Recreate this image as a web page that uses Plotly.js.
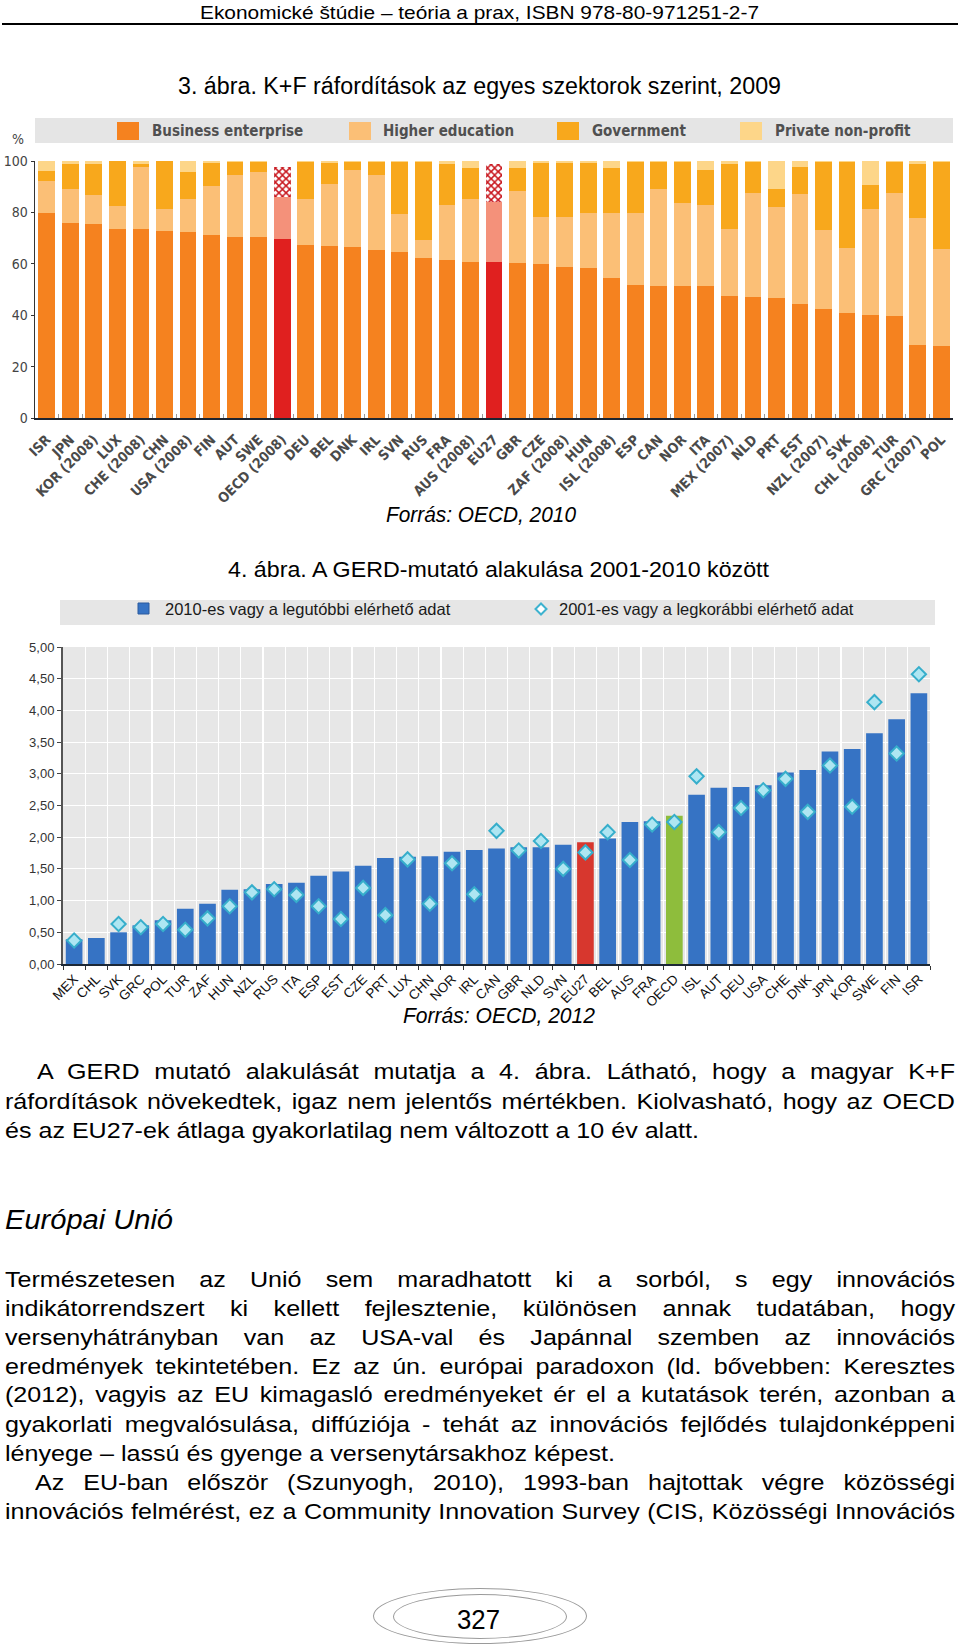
<!DOCTYPE html>
<html><head><meta charset="utf-8">
<script src="https://cdn.plot.ly/plotly-3.0.1.min.js"></script>
<style>
html,body{margin:0;padding:0;background:#fff;}
body{width:960px;height:1649px;position:relative;overflow:hidden;color:#000;}
.t{position:absolute;transform-origin:0 50%;}
#c1{position:absolute;left:0;top:110px;width:960px;height:400px;}
#c2{position:absolute;left:0;top:590px;width:960px;height:420px;}
.ell{position:absolute;border:1.5px solid #9a9a9a;border-radius:50%;box-sizing:border-box;}
#rule{position:absolute;left:2px;top:23px;width:956px;height:1.5px;background:#000;}
</style></head><body>
<div id="rule"></div>
<div id="c1"></div>
<div id="c2"></div>
<div class="ell" style="left:373px;top:1588px;width:214px;height:56px;"></div>
<div class="ell" style="left:393px;top:1594px;width:174px;height:45px;"></div>
<script>
// ---------- DATA: chart 1 (3. ábra) ----------
const sectorCats = ['ISR','JPN','KOR (2008)','LUX','CHE (2008)','CHN','USA (2008)','FIN','AUT','SWE','OECD (2008)','DEU','BEL','DNK','IRL','SVN','RUS','FRA','AUS (2008)','EU27','GBR','CZE','ZAF (2008)','HUN','ISL (2008)','ESP','CAN','NOR','ITA','MEX (2007)','NLD','PRT','EST','NZL (2007)','SVK','CHL (2008)','TUR','GRC (2007)','POL'];
const businessEnterprise = [79.8,75.8,75.4,73.6,73.4,72.9,72.3,71.3,70.5,70.4,69.6,67.4,67.1,66.7,65.2,64.4,62.1,61.5,60.8,60.7,60.3,60.0,58.7,58.3,54.4,51.8,51.5,51.5,51.2,47.3,47.0,46.6,44.4,42.5,40.9,40.2,39.8,28.5,28.2];
const higherEducation = [12.6,13.3,11.4,8.8,24.4,8.6,13.1,19.1,24.1,25.5,16.4,17.8,23.8,29.8,29.4,15.0,7.3,21.3,24.4,23.5,28.0,18.1,19.7,21.3,25.2,27.8,37.6,32.1,31.7,26.2,40.7,35.4,42.8,30.5,25.2,41.2,47.9,49.5,37.5];
const government = [3.8,9.6,12.0,17.6,1.0,18.5,10.4,8.7,5.2,3.8,11.8,14.6,8.2,3.3,5.2,20.4,30.1,15.9,12.2,14.5,9.1,21.3,20.7,19.8,17.8,20.2,10.7,16.2,13.6,25.2,12.1,7.1,10.6,26.8,33.7,9.3,12.1,20.7,34.1];
const privateNonProfit = [3.8,1.3,1.2,0.0,1.2,0.0,4.2,0.9,0.2,0.3,2.2,0.2,0.9,0.2,0.2,0.2,0.5,1.3,2.6,1.3,2.6,0.6,0.9,0.6,2.6,0.2,0.2,0.2,3.5,1.3,0.2,10.9,2.2,0.2,0.2,9.3,0.2,1.3,0.2];
const sectorNames = ['Business enterprise','Higher education','Government','Private non-profit'];
const highlighted1 = ['OECD (2008)','EU27'];
const yTicks1 = [0,20,40,60,80,100];

// ---------- DATA: chart 2 (4. ábra) ----------
const gerdCats = ['MEX','CHL','SVK','GRC','POL','TUR','ZAF','HUN','NZL','RUS','ITA','ESP','EST','CZE','PRT','LUX','CHN','NOR','IRL','CAN','GBR','NLD','SVN','EU27','BEL','AUS','FRA','OECD','ISL','AUT','DEU','USA','CHE','DNK','JPN','KOR','SWE','FIN','ISR'];
const gerdLatest = [0.39,0.41,0.50,0.61,0.69,0.87,0.95,1.17,1.18,1.26,1.28,1.39,1.46,1.55,1.67,1.69,1.70,1.77,1.80,1.82,1.84,1.84,1.88,1.92,1.98,2.24,2.25,2.34,2.67,2.78,2.79,2.82,3.02,3.06,3.35,3.39,3.64,3.86,4.27];
const gerdEarliest = [0.37,null,0.63,0.58,0.63,0.54,0.72,0.91,1.13,1.18,1.09,0.91,0.71,1.20,0.77,1.65,0.95,1.59,1.10,2.10,1.79,1.94,1.50,1.76,2.08,1.64,2.20,2.24,2.96,2.08,2.46,2.74,2.92,2.40,3.13,2.48,4.13,3.32,4.57];
const gerdNames = ['2010-es vagy a legutóbbi elérhető adat','2001-es vagy a legkorábbi elérhető adat'];
const yTicks2 = [0,0.5,1,1.5,2,2.5,3,3.5,4,4.5,5];

// ---------- fonts ----------
const FONT = "'Liberation Sans', Arial, Helvetica, sans-serif";
const FONT_N = "'Liberation Sans Narrow','DejaVu Sans Condensed','Arial Narrow','Liberation Sans',Arial,sans-serif";

// ---------- chart 1 ----------
(function(){
  const M = {top:110, h:400, l:35, r:7, t:51, b:92};
  const pw = 960-M.l-M.r, ph = M.h-M.t-M.b, bottom = M.top+M.h-M.b;
  const px = x => (x-M.l)/pw, py = y => (bottom-y)/ph;
  const isH = c => highlighted1.indexOf(c) >= 0;
  const cBus = sectorCats.map(c => isH(c) ? '#E0201F' : '#F5821F');
  const cHe  = sectorCats.map(c => isH(c) ? '#F4917A' : '#FBBF76');
  const cPnp = sectorCats.map(c => isH(c) ? 'rgba(0,0,0,0)' : '#FDD689');
  // government split: plain for countries, checkered for the averages
  const govPlain = government.map((v,i) => isH(sectorCats[i]) ? 0 : v);
  const govAvg   = government.map((v,i) => isH(sectorCats[i]) ? v : 0);
  const base = {type:'bar', x:sectorCats, hoverinfo:'skip', showlegend:false};
  const traces = [
    Object.assign({}, base, {name:sectorNames[0], y:businessEnterprise, marker:{color:cBus, line:{width:0}}}),
    Object.assign({}, base, {name:sectorNames[1], y:higherEducation, marker:{color:cHe, line:{width:0}}}),
    Object.assign({}, base, {name:sectorNames[2], y:govPlain, marker:{color:'#F8A81C', line:{width:0}}}),
    Object.assign({}, base, {name:sectorNames[2]+' (átlag)', y:govAvg, marker:{color:'#FFFFFF', line:{width:0}, pattern:{shape:'x', fillmode:'replace', fgcolor:'#C8161D', bgcolor:'#FFFFFF', size:5, solidity:0.5}}}),
    Object.assign({}, base, {name:sectorNames[3], y:privateNonProfit, marker:{color:cPnp, line:{width:0}}})
  ];
  const legColors = ['#F5821F','#FBBF76','#F8A81C','#FDD689'];
  const sqX = [117,349,557,740], txX = [150,381,590,773];
  const shapes = [{type:'rect', xref:'paper', yref:'paper', x0:px(35), x1:px(953), y0:py(143), y1:py(118), fillcolor:'#E5E5E5', line:{width:0}, layer:'below'}];
  const ann = [];
  sectorNames.forEach((n,i)=>{
    shapes.push({type:'rect', xref:'paper', yref:'paper', x0:px(sqX[i]), x1:px(sqX[i]+22), y0:py(140), y1:py(122), fillcolor:legColors[i], line:{width:0}});
    ann.push({xref:'paper', yref:'paper', x:px(txX[i]), y:py(131), xanchor:'left', yanchor:'middle', showarrow:false, text:n, font:{family:FONT_N, size:15, color:'#505050', weight:'bold'}});
  });
  ann.push({xref:'paper', yref:'paper', x:px(18), y:py(139), xanchor:'center', yanchor:'middle', showarrow:false, text:'%', font:{family:FONT_N, size:14, color:'#444'}});
  const tickText = sectorCats.map(c => isH(c) ? '<b>'+c+'</b>' : c);
  const layout = {
    width:960, height:M.h, margin:{l:M.l, r:M.r, t:M.t, b:M.b, pad:0},
    barmode:'stack', bargap:0.29, paper_bgcolor:'#fff', plot_bgcolor:'#fff',
    xaxis:{type:'category', range:[-0.5, sectorCats.length-0.5], tickangle:-45, tickson:'boundaries', ticks:'inside', ticklen:4, tickcolor:'#9a9a9a',
      tickvals:sectorCats, ticktext:tickText, tickfont:{family:FONT_N, size:14, color:'#4a4a4a', weight:'bold'}, ticklabelstandoff:6,
      showline:true, linecolor:'#1e2530', linewidth:2, showgrid:false, zeroline:false, automargin:false, fixedrange:true},
    yaxis:{range:[0,100], tickvals:yTicks1, ticks:'outside', ticklen:3, tickcolor:'#333', showline:true, linecolor:'#333', linewidth:1.5,
      showgrid:false, zeroline:false, tickfont:{family:FONT_N, size:14, color:'#444'}, automargin:false, fixedrange:true},
    shapes:shapes, annotations:ann, showlegend:false
  };
  Plotly.newPlot('c1', traces, layout, {displayModeBar:false, staticPlot:true});
})();

// ---------- chart 2 ----------
(function(){
  const M = {top:590, h:420, l:63, r:30, t:57, b:46};
  const pw = 960-M.l-M.r, ph = M.h-M.t-M.b, bottom = M.top+M.h-M.b;
  const px = x => (x-M.l)/pw, py = y => (bottom-y)/ph;
  const barColors = gerdCats.map(c => c==='EU27' ? '#D7372E' : (c==='OECD' ? '#8EBD3C' : '#3673C4'));
  const traces = [
    {type:'bar', name:gerdNames[0], x:gerdCats, y:gerdLatest, marker:{color:barColors, line:{width:0}}, hoverinfo:'skip', showlegend:false},
    {type:'scatter', mode:'markers', name:gerdNames[1], x:gerdCats, y:gerdEarliest, marker:{symbol:'diamond', size:11, color:'#AEE6F2', line:{color:'#36AECB', width:2}}, hoverinfo:'skip', showlegend:false}
  ];
  const cx=541, cy=609, r=5.5;
  const shapes = [
    {type:'rect', xref:'paper', yref:'paper', x0:px(60), x1:px(935), y0:py(625), y1:py(600), fillcolor:'#E6E6E6', line:{width:0}, layer:'below'},
    {type:'rect', xref:'paper', yref:'paper', x0:px(138), x1:px(149), y0:py(614), y1:py(603), fillcolor:'#3673C4', line:{color:'#2A5A9E', width:1}},
    {type:'path', xref:'paper', yref:'paper', path:'M '+px(cx)+','+py(cy-r)+' L '+px(cx+r)+','+py(cy)+' L '+px(cx)+','+py(cy+r)+' L '+px(cx-r)+','+py(cy)+' Z', fillcolor:'#FFFFFF', line:{color:'#3DB2CF', width:2}}
  ];
  const ann = [
    {xref:'paper', yref:'paper', x:px(163), y:py(609), xanchor:'left', yanchor:'middle', showarrow:false, text:gerdNames[0], font:{family:FONT, size:16.5, color:'#1a1a1a'}},
    {xref:'paper', yref:'paper', x:px(557), y:py(609), xanchor:'left', yanchor:'middle', showarrow:false, text:gerdNames[1], font:{family:FONT, size:16.5, color:'#1a1a1a'}}
  ];
  const layout = {
    width:960, height:M.h, margin:{l:M.l, r:M.r, t:M.t, b:M.b, pad:0},
    bargap:0.25, paper_bgcolor:'#fff', plot_bgcolor:'#E7E7E7', separators:', ',
    xaxis:{type:'category', range:[-0.5, gerdCats.length-0.5], tickangle:-45, tickson:'boundaries', ticks:'outside', ticklen:4, tickcolor:'#333',
      showgrid:true, gridcolor:'#FFFFFF', gridwidth:1.2, showline:true, linecolor:'#1c2836', linewidth:2, zeroline:false,
      tickfont:{family:FONT, size:13.5, color:'#111'}, automargin:false, fixedrange:true},
    yaxis:{range:[0,5], tickvals:yTicks2, tickformat:'.2f', ticks:'outside', ticklen:4, tickcolor:'#444', showline:true, linecolor:'#555', linewidth:2,
      showgrid:true, gridcolor:'#FFFFFF', gridwidth:1.2, zeroline:false, tickfont:{family:FONT, size:13, color:'#333'}, automargin:false, fixedrange:true},
    shapes:shapes, annotations:ann, showlegend:false
  };
  Plotly.newPlot('c2', traces, layout, {displayModeBar:false, staticPlot:true});
})();

// ---------- page text ----------
function place(spec, S){
  const d = document.createElement('div');
  d.className = 't';
  d.textContent = spec.t;
  const lh = Math.round(spec.size*1.25);
  d.style.font = (spec.it ? 'italic ' : '') + spec.size + 'px ' + FONT;
  d.style.lineHeight = lh + 'px';
  d.style.top = (spec.cy - lh/2) + 'px';
  d.style.left = spec.x0 + 'px';
  d.style.whiteSpace = 'nowrap';
  document.body.appendChild(d);
  const nat = d.getBoundingClientRect().width;
  const target = spec.x1 - spec.x0;
  let s;
  if (spec.m === 'fit') { s = target/nat; }
  else {
    s = Math.min(S, target/(nat+2));
    d.style.whiteSpace = 'normal';
    d.style.width = (target/s) + 'px';
    d.style.textAlign = 'justify';
    d.style.textAlignLast = 'justify';
  }
  d.style.transform = 'scaleX(' + s + ')';
  return s;
}
const B = 22.5;
const fitLines = [
  {t:'Ekonomické štúdie – teória a prax, ISBN 978-80-971251-2-7', x0:200, x1:759, cy:12, size:18.5, m:'fit'},
  {t:'3. ábra. K+F ráfordítások az egyes szektorok szerint, 2009', x0:178, x1:781, cy:86, size:23, m:'fit'},
  {t:'Forrás: OECD, 2010', x0:386, x1:576, cy:515, size:22, it:true, m:'fit'},
  {t:'4. ábra. A GERD-mutató alakulása 2001-2010 között', x0:228, x1:769, cy:570, size:22.5, m:'fit'},
  {t:'Forrás: OECD, 2012', x0:403, x1:595, cy:1016, size:22, it:true, m:'fit'},
  {t:'Európai Unió', x0:5, x1:173, cy:1220, size:27, it:true, m:'fit'},
  {t:'327', x0:457, x1:500, cy:1619, size:28, m:'fit'}
];
fitLines.forEach(l => place(l));
const s1 = place({t:'és az EU27-ek átlaga gyakorlatilag nem változott a 10 év alatt.', x0:5, x1:699, cy:1131, size:B, m:'fit'});
const s2 = place({t:'lényege – lassú és gyenge a versenytársakhoz képest.', x0:5, x1:615, cy:1454, size:B, m:'fit'});
const S = (s1+s2)/2;
const justLines = [
  {t:'A GERD mutató alakulását mutatja a 4. ábra. Látható, hogy a magyar K+F', x0:37, x1:955, cy:1072},
  {t:'ráfordítások növekedtek, igaz nem jelentős mértékben. Kiolvasható, hogy az OECD', x0:5, x1:955, cy:1102},
  {t:'Természetesen az Unió sem maradhatott ki a sorból, s egy innovációs', x0:5, x1:955, cy:1280},
  {t:'indikátorrendszert ki kellett fejlesztenie, különösen annak tudatában, hogy', x0:5, x1:955, cy:1309},
  {t:'versenyhátrányban van az USA-val és Japánnal szemben az innovációs', x0:5, x1:955, cy:1338},
  {t:'eredmények tekintetében. Ez az ún. európai paradoxon (ld. bővebben: Keresztes', x0:5, x1:955, cy:1367},
  {t:'(2012), vagyis az EU kimagasló eredményeket ér el a kutatások terén, azonban a', x0:5, x1:955, cy:1395},
  {t:'gyakorlati megvalósulása, diffúziója - tehát az innovációs fejlődés tulajdonképpeni', x0:5, x1:955, cy:1425},
  {t:'Az EU-ban először (Szunyogh, 2010), 1993-ban hajtottak végre közösségi', x0:35, x1:955, cy:1483},
  {t:'innovációs felmérést, ez a Community Innovation Survey (CIS, Közösségi Innovációs', x0:5, x1:955, cy:1512}
];
justLines.forEach(l => place(Object.assign({size:B, m:'just'}, l), S));
</script>
</body></html>
